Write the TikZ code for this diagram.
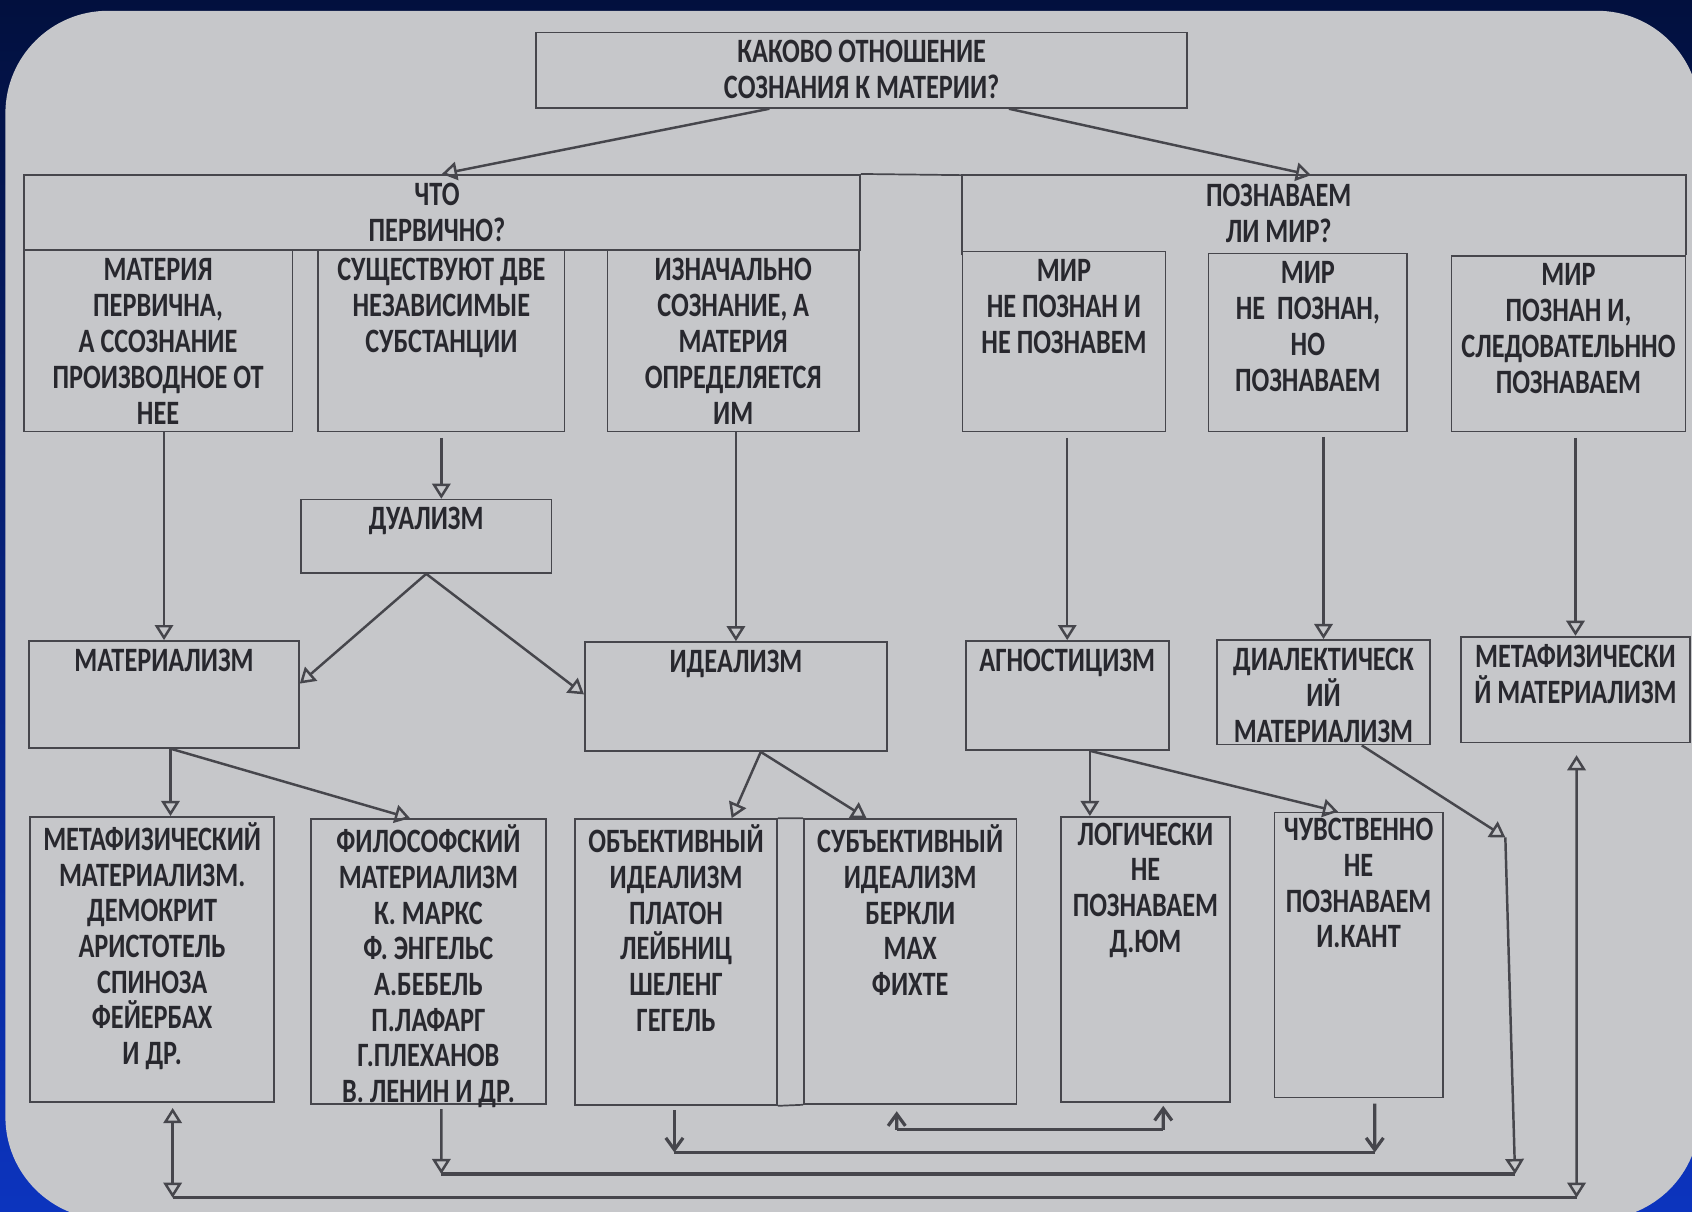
\documentclass[tikz,border=0pt]{standalone}
\usepackage{fontspec}
\setmainfont{Carlito}[FakeStretch=0.77]
\usetikzlibrary{arrows.meta,positioning,calc}
\definecolor{navy}{RGB}{2,16,62}
\definecolor{deepblue}{RGB}{12,52,190}
\definecolor{paper}{RGB}{198,199,202}
\definecolor{ink}{RGB}{40,40,46}
\definecolor{pen}{RGB}{70,70,76}
\tikzset{
  box/.style={draw=pen, line width=0.45pt, inner sep=0pt},
  txt/.style={align=center, text=ink, inner sep=0pt, anchor=north, yshift=-0.75mm,
    font=\fontsize{9}{9.5}\selectfont\bfseries,
    execute at begin node={\rule{0pt}{8pt}}},
  onetxt/.style={txt, yshift=0.75mm},
  tighttxt/.style={txt, yshift=0.2mm, font=\fontsize{9}{9.4}\selectfont\bfseries},
  arr/.style={draw=pen, line width=0.65pt, -{Triangle[open,length=1.4mm,width=1.7mm]}},
  arrboth/.style={draw=pen, line width=0.65pt,
    {Triangle[open,length=1.4mm,width=1.7mm]}-{Triangle[open,length=1.4mm,width=1.7mm]}},
  barb/.style={draw=pen, line width=0.85pt, -{Straight Barb[length=1.1mm,width=1.6mm]}},
  link/.style={draw=pen, line width=0.85pt}
}
\begin{document}
\begin{tikzpicture}
\useasboundingbox (0,0) rectangle (15.68,-11.23);
\clip (0,0) rectangle (15.68,-11.23);
% slide and sheet
\shade[top color=navy, bottom color=deepblue] (0,0) rectangle (15.68,-11.23);
\fill[paper, rounded corners=0.95cm] (0.05,-0.10) rectangle (15.75,-11.30);

% question
\node[box, minimum width=6.03cm, minimum height=0.70cm] (q) at (7.985,-0.65) {};
\node[txt] (qt) at (q.north) {КАКОВО ОТНОШЕНИЕ\\СОЗНАНИЯ К МАТЕРИИ?};

% headers
\node[box, minimum width=7.75cm, minimum height=0.70cm] (hl) at (4.095,-1.97) {};
\node[txt] (hlt) at ([xshift=-0.045cm]hl.north) {ЧТО\\ПЕРВИЧНО?};
\node[inner sep=0pt, minimum width=6.70cm, minimum height=0.73cm] (hr) at (12.27,-1.995) {};
\draw[pen, line width=0.45pt] (hr.south west) -- (hr.north west) -- (hr.north east) -- (hr.south east);
\draw[pen, line width=0.45pt] (hl.north east) -- (hr.north west);
\node[txt] (hrt) at ([xshift=-0.42cm]hr.north) {ПОЗНАВАЕМ\\ЛИ МИР?};

% answers
\node[box, minimum width=2.49cm, minimum height=1.68cm] (ra) at (1.465,-3.16) {};
\node[txt] (rat) at (ra.north) {МАТЕРИЯ\\ПЕРВИЧНА,\\А ССОЗНАНИЕ\\ПРОИЗВОДНОЕ ОТ\\НЕЕ};
\node[box, minimum width=2.28cm, minimum height=1.68cm] (rb) at (4.09,-3.16) {};
\node[txt] (rbt) at (rb.north) {СУЩЕСТВУЮТ ДВЕ\\НЕЗАВИСИМЫЕ\\СУБСТАНЦИИ};
\node[box, minimum width=2.33cm, minimum height=1.68cm] (rc) at (6.795,-3.16) {};
\node[txt] (rct) at (rc.north) {ИЗНАЧАЛЬНО\\СОЗНАНИЕ, А\\МАТЕРИЯ\\ОПРЕДЕЛЯЕТСЯ\\ИМ};
\node[box, minimum width=1.88cm, minimum height=1.67cm] (rd) at (9.86,-3.165) {};
\node[txt] (rdt) at (rd.north) {МИР\\НЕ ПОЗНАН И\\НЕ ПОЗНАВЕМ};
\node[box, minimum width=1.84cm, minimum height=1.65cm] (re) at (12.12,-3.175) {};
\node[txt] (ret) at (re.north) {МИР\\НЕ~~ПОЗНАН,\\НО\\ПОЗНАВАЕМ};
\node[box, minimum width=2.17cm, minimum height=1.63cm] (rf) at (14.535,-3.185) {};
\node[txt] (rft) at (rf.north) {МИР\\ПОЗНАН И,\\СЛЕДОВАТЕЛЬННО\\ПОЗНАВАЕМ};

% schools
\node[box, minimum width=2.32cm, minimum height=0.68cm] (dual) at (3.95,-4.97) {};
\node[onetxt] (dualt) at (dual.north) {ДУАЛИЗМ};
\node[box, minimum width=2.50cm, minimum height=0.99cm] (mat) at (1.52,-6.435) {};
\node[onetxt] (matt) at (mat.north) {МАТЕРИАЛИЗМ};
\node[box, minimum width=2.80cm, minimum height=1.01cm] (ideal) at (6.82,-6.455) {};
\node[onetxt] (idealt) at (ideal.north) {ИДЕАЛИЗМ};
\node[box, minimum width=1.88cm, minimum height=1.01cm] (agn) at (9.89,-6.445) {};
\node[onetxt] (agnt) at (agn.north) {АГНОСТИЦИЗМ};
\node[box, minimum width=1.97cm, minimum height=0.97cm] (dial) at (12.265,-6.415) {};
\node[txt] (dialt) at (dial.north) {ДИАЛЕКТИЧЕСК\\ИЙ\\МАТЕРИАЛИЗМ};
\node[box, minimum width=2.12cm, minimum height=0.98cm] (metr) at (14.60,-6.39) {};
\node[txt] (metrt) at (metr.north) {МЕТАФИЗИЧЕСКИ\\Й МАТЕРИАЛИЗМ};

% names
\node[box, minimum width=2.26cm, minimum height=2.64cm] (metl) at (1.41,-8.89) {};
\node[tighttxt] (metlt) at (metl.north) {МЕТАФИЗИЧЕСКИЙ\\МАТЕРИАЛИЗМ.\\ДЕМОКРИТ\\АРИСТОТЕЛЬ\\СПИНОЗА\\ФЕЙЕРБАХ\\И ДР.};
\node[box, minimum width=2.18cm, minimum height=2.64cm] (phil) at (3.97,-8.91) {};
\node[tighttxt] (philt) at (phil.north) {ФИЛОСОФСКИЙ\\МАТЕРИАЛИЗМ\\К. МАРКС\\Ф. ЭНГЕЛЬС\\А.БЕБЕЛЬ\\П.ЛАФАРГ\\Г.ПЛЕХАНОВ\\В. ЛЕНИН И ДР.};
\node[box, minimum width=1.87cm, minimum height=2.65cm] (obj) at (6.265,-8.915) {};
\node[tighttxt] (objt) at (obj.north) {ОБЪЕКТИВНЫЙ\\ИДЕАЛИЗМ\\ПЛАТОН\\ЛЕЙБНИЦ\\ШЕЛЕНГ\\ГЕГЕЛЬ};
\node[box, minimum width=1.97cm, minimum height=2.64cm] (subj) at (8.435,-8.91) {};
\node[tighttxt] (subjt) at (subj.north) {СУБЪЕКТИВНЫЙ\\ИДЕАЛИЗМ\\БЕРКЛИ\\МАХ\\ФИХТЕ};
\draw[pen, line width=0.45pt] (obj.north east) -- (subj.north west);
\draw[pen, line width=0.45pt] (obj.south east) -- (subj.south west);
\node[box, minimum width=1.57cm, minimum height=2.64cm] (log) at (10.615,-8.89) {};
\node[tighttxt] (logt) at (log.north) {ЛОГИЧЕСКИ\\НЕ\\ПОЗНАВАЕМ\\Д.ЮМ};
\node[box, minimum width=1.56cm, minimum height=2.64cm] (chuv) at (12.59,-8.85) {};
\node[tighttxt] (chuvt) at (chuv.north) {ЧУВСТВЕННО\\НЕ\\ПОЗНАВАЕМ\\И.КАНТ};

% arrows down the tree
\draw[arr] ([xshift=-0.855cm]q.south) -- (hl.north);
\draw[arr] ([xshift=1.365cm]q.south) -- ([xshift=-0.12cm]hr.north);
\draw[arr] (mat.north |- ra.south) -- (mat.north);
\draw[arr, shorten <=0.5mm] (rb.south) -- (rb.south |- dual.north);
\draw[arr] (ideal.north |- rc.south) -- (ideal.north);
\draw[arr, shorten <=0.5mm] (agn.north |- rd.south) -- (agn.north);
\draw[arr, shorten <=0.4mm] (dial.north |- re.south) -- (dial.north);
\draw[arr, shorten <=0.5mm] (metr.north |- rf.south) -- (metr.north);
\draw[arr] (dual.south) -- ([yshift=0.1cm]mat.east);
\draw[arr] (dual.south) -- ([yshift=0.02cm]ideal.west);
\coordinate (mo) at ([xshift=0.06cm]mat.south);
\draw[arr] (mo) -- (mo |- metl.north);
\draw[arr] (mo) -- ([xshift=-0.17cm]phil.north);
\coordinate (io) at ([xshift=0.23cm]ideal.south);
\draw[arr] (io) -- ([xshift=0.515cm]obj.north);
\draw[arr] (io) -- ([xshift=-0.405cm]subj.north);
\coordinate (ao) at ([xshift=0.21cm]agn.south);
\draw[arr] (ao) -- (ao |- log.north);
\draw[arr] (ao) -- ([xshift=-0.19cm]chuv.north);

% links along the bottom
\coordinate (sb) at (8.31,-10.47);
\coordinate (lb) at (10.78,-10.47);
\draw[barb, shorten >=0.6mm] (sb) -- ([xshift=-0.125cm]subj.south);
\draw[barb, shorten >=0.3mm] (lb) -- ([xshift=0.165cm]log.south);
\draw[link] (sb) -- (lb);
\coordinate (ob) at (6.25,-10.68);
\coordinate (cb) at (12.74,-10.68);
\draw[barb, shorten <=0.4mm] ([xshift=-0.015cm]obj.south) -- (ob);
\draw[barb, shorten <=0.5mm] ([xshift=0.15cm]chuv.south) -- (cb);
\draw[link] (ob) -- (cb);
\coordinate (dk) at (13.95,-7.76);
\coordinate (dd) at (14.04,-10.88);
\coordinate (pd) at (4.09,-10.88);
\draw[arr] ([xshift=0.355cm]dial.south) -- (dk);
\draw[arr] (dk) -- (dd);
\draw[arr, shorten <=0.4mm] ([xshift=0.12cm]phil.south) -- (pd);
\draw[link] (pd) -- (dd);
\coordinate (ml) at (1.60,-11.10);
\coordinate (mr) at (14.61,-11.10);
\draw[arrboth, shorten <=0.5mm] ([xshift=0.19cm]metl.south) -- (ml);
\draw[arrboth, shorten <=1.1mm] ([xshift=0.01cm]metr.south) -- (mr);
\draw[link] (ml) -- (mr);
\end{tikzpicture}
\end{document}
